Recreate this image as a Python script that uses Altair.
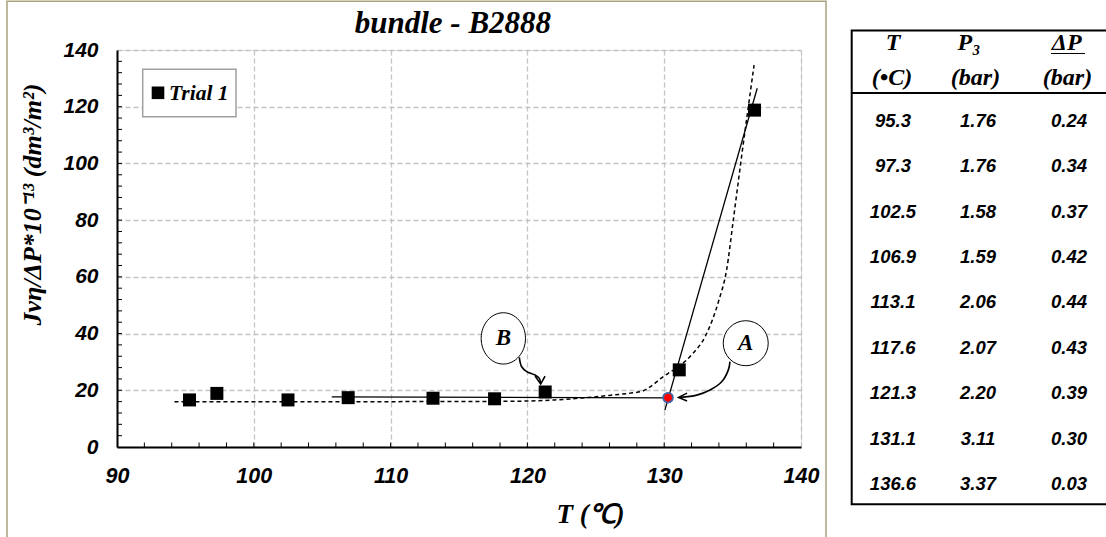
import altair as alt
import pandas as pd

# ---------------- data ----------------
T = [95.3, 97.3, 102.5, 106.9, 113.1, 117.6, 121.3, 131.1, 136.6]
J = [16.6, 18.9, 16.6, 17.4, 17.2, 17.0, 19.4, 27.2, 118.8]
P3 = [1.76, 1.76, 1.58, 1.59, 2.06, 2.07, 2.20, 3.11, 3.37]
DP = [0.24, 0.34, 0.37, 0.42, 0.44, 0.43, 0.39, 0.30, 0.03]

fit_T = [94.2, 100, 105, 110, 115, 118, 120, 122, 124, 126, 127.5, 128.4, 129, 129.7,
         130.3, 131.1, 132, 133, 134, 134.56, 135.05, 135.59, 136.15, 136.57]
fit_J = [16.0, 16.0, 16.0, 16.0, 16.05, 16.1, 16.2, 16.6, 17.3, 18.2, 19.0, 19.7, 21.3, 24.0,
         26.0, 28.5, 32.5, 39.0, 51.8, 62.4, 80.0, 100.0, 120.0, 134.7]

seg_id = [1, 1, 2, 2]
seg_T = [105.7, 130.3, 130.05, 136.8]
seg_J = [17.7, 17.3, 13.0, 126.5]

red_T = [130.28]
red_J = [17.4]

arrow_id = ["B"] * 6 + ["A"] * 6
arrow_T = [119.41, 119.58, 119.95, 120.56, 120.87, 120.97,
           134.81, 134.69, 134.20, 133.35, 132.38, 131.16]
arrow_J = [31.6, 28.3, 26.6, 25.4, 24.2, 22.5,
           30.1, 27.2, 23.0, 20.1, 18.3, 17.5]

head_id = ["B", "B", "B", "A", "A", "A"]
head_T = [120.56, 120.97, 121.29, 131.67, 131.05, 131.67]
head_J = [25.0, 22.2, 25.0, 19.0, 17.5, 16.2]

label_txt = ["B", "A"]
label_T = [118.24, 135.96]
label_J = [38.3, 36.6]

x_minor = list(range(92, 140, 2))
y_minor = list(range(4, 140, 4))

SERIF = "Liberation Serif"
SANS = "Liberation Sans"

# ---------------- scales / axes ----------------
xs = alt.Scale(domain=[90, 140], nice=False, zero=False)
ys = alt.Scale(domain=[0, 140], nice=False)

x_axis = alt.Axis(values=[90, 100, 110, 120, 130, 140], format="d", labelFont=SANS,
                  labelFontSize=21.5, labelFontStyle="italic", labelFontWeight="bold",
                  labelColor="black", labelPadding=18, labelFlush=False, ticks=False,
                  domainColor="black", domainWidth=2, grid=True, gridColor="#c4c4c4",
                  gridDash=[5, 3], gridWidth=1.3, title="T (\u2103)", titleFont=SERIF,
                  titleFontSize=27, titleFontStyle="italic", titleFontWeight="bold",
                  titleColor="black", titleX=473, titleY=75, titleAlign="center",
                  titleBaseline="alphabetic", titleAnchor="start")
y_axis = alt.Axis(values=[0, 20, 40, 60, 80, 100, 120, 140], format="d", labelFont=SANS,
                  labelFontSize=21, labelFontStyle="italic", labelFontWeight="bold",
                  labelColor="black", labelPadding=19, labelFlush=False, ticks=False,
                  domainColor="black", domainWidth=2, grid=True, gridColor="#c4c4c4",
                  gridDash=[5, 3], gridWidth=1.3,
                  title="Jv\u03b7/\u0394P*10\u207b\u00b9\u00b3 (dm\u00b3/m\u00b2)",
                  titleFont=SERIF, titleFontSize=26, titleFontStyle="italic",
                  titleFontWeight="bold", titleColor="black", titleAngle=270,
                  titleX=-85, titleY=154, titleAlign="center", titleBaseline="middle",
                  titleAnchor="start")

X = alt.X("x:Q", scale=xs, axis=x_axis)
Y = alt.Y("y:Q", scale=ys, axis=y_axis)

one = pd.DataFrame({"a": [0]})

# ---------------- main chart layers ----------------
frame = alt.Chart(one).mark_rect(fill=None, stroke="#a9a17f", strokeWidth=1.5).encode(
    x=alt.value(-110), x2=alt.value(709), y=alt.value(-48.7), y2=alt.value(500))

points_df = pd.DataFrame({"x": T, "y": J})
base_axes = alt.Chart(points_df).mark_point(opacity=0).encode(x=X, y=Y)

xminor = alt.Chart(pd.DataFrame({"x": x_minor})).mark_rule(color="black", strokeWidth=1).encode(
    x=X, y=alt.value(397), y2=alt.value(392.5))
yminor = alt.Chart(pd.DataFrame({"y": y_minor})).mark_rule(color="black", strokeWidth=1).encode(
    y=Y, x=alt.value(0), x2=alt.value(5))

fit = alt.Chart(pd.DataFrame({"x": fit_T, "y": fit_J, "i": range(len(fit_T))})).mark_line(
    color="black", strokeWidth=1.5, strokeDash=[4, 3], interpolate="monotone").encode(
    x=X, y=Y, order="i:Q")

solid = alt.Chart(pd.DataFrame({"x": seg_T, "y": seg_J, "seg": seg_id})).mark_line(
    color="black", strokeWidth=1.3).encode(x=X, y=Y, detail="seg:N")

arrows = alt.Chart(pd.DataFrame({"x": arrow_T, "y": arrow_J, "g": arrow_id,
                                 "i": list(range(len(arrow_T)))})).mark_line(
    color="black", strokeWidth=1.6, interpolate="catmull-rom").encode(
    x=X, y=Y, detail="g:N", order="i:Q")

heads = alt.Chart(pd.DataFrame({"x": head_T, "y": head_J, "g": head_id,
                                "i": list(range(len(head_T)))})).mark_line(
    color="black", strokeWidth=1.6).encode(x=X, y=Y, detail="g:N", order="i:Q")

pts = alt.Chart(points_df).mark_point(shape="square", filled=True, size=169, color="black",
                                      opacity=1).encode(x=X, y=Y)

red = alt.Chart(pd.DataFrame({"x": red_T, "y": red_J})).mark_point(
    shape="circle", filled=True, fill="#ff0000", stroke="#3f67a8", strokeWidth=1.8,
    size=95, opacity=1).encode(x=X, y=Y)

ell_B = alt.Chart(pd.DataFrame({"x": [label_T[0]], "y": [label_J[0]]})).mark_point(
    shape="M -0.864 0 A 0.864 1 0 1 1 0.864 0 A 0.864 1 0 1 1 -0.864 0 Z",
    filled=True, fill="white", stroke="black", strokeWidth=1, size=2632,
    opacity=1).encode(x=X, y=Y)
ell_A = alt.Chart(pd.DataFrame({"x": [label_T[1]], "y": [label_J[1]]})).mark_point(
    shape="circle", filled=True, fill="white", stroke="black", strokeWidth=1, size=2025,
    opacity=1).encode(x=X, y=Y)

letters = alt.Chart(pd.DataFrame({"x": label_T, "y": label_J, "t": label_txt})).mark_text(
    font=SERIF, fontSize=23, fontStyle="italic", fontWeight="bold", color="black",
    baseline="middle", align="center").encode(x=X, y=Y, text="t:N")

leg_box = alt.Chart(one).mark_rect(fill="white", stroke="#a0a0a0", strokeWidth=1.5).encode(
    x=alt.value(25.7), x2=alt.value(119), y=alt.value(19.3), y2=alt.value(66.7))
leg_sq = alt.Chart(one).mark_point(shape="square", filled=True, color="black", size=159,
                                   opacity=1).encode(x=alt.value(41), y=alt.value(42.8))
leg_txt = alt.Chart(pd.DataFrame({"t": ["Trial 1"]})).mark_text(
    font=SERIF, fontSize=21.5, fontStyle="italic", fontWeight="bold", color="black",
    align="left", baseline="alphabetic").encode(x=alt.value(52), y=alt.value(49.5), text="t:N")

title = alt.Chart(pd.DataFrame({"t": ["bundle - B2888"]})).mark_text(
    font=SERIF, fontSize=31, fontStyle="italic", fontWeight="bold", color="black",
    align="center", baseline="alphabetic").encode(x=alt.value(335.9), y=alt.value(-16.7),
                                                  text="t:N")

main = alt.layer(frame, base_axes, xminor, yminor, fit, solid, arrows, heads, pts, red,
                 ell_B, ell_A, letters, leg_box, leg_sq, leg_txt, title)

# ---------------- table ----------------
tbl = pd.DataFrame({"i": list(range(len(T))), "T": T, "P3": P3, "DP": DP})
rowY = alt.Y("i:O", scale=alt.Scale(range=[76.7, 440], padding=0), axis=None)

tbox = alt.Chart(one).mark_rect(fill=None, stroke="black", strokeWidth=2).encode(
    x=alt.value(734.7), x2=alt.value(1010), y=alt.value(-19.5), y2=alt.value(454.3))
trule = alt.Chart(one).mark_rule(color="black", strokeWidth=2).encode(
    x=alt.value(734.7), x2=alt.value(1010), y=alt.value(43))
uline = alt.Chart(one).mark_rule(color="black", strokeWidth=1).encode(
    x=alt.value(934), x2=alt.value(968), y=alt.value(3.5))


def head(txt, cx, y):
    return alt.Chart(pd.DataFrame({"t": [txt]})).mark_text(
        font=SERIF, fontSize=24, fontStyle="italic", fontWeight="bold", color="black",
        align="center", baseline="alphabetic").encode(
        x=alt.value(cx), y=alt.value(y), text="t:N")


heads_tbl = [head("T", 776, 0), head("(\u2022C)", 775, 35),
             head("P\u2083", 852, 0), head("(bar)", 858.5, 35),
             head("\u0394P", 949.7, 0), head("(bar)", 950.5, 35)]


def col(field, fmt, cx):
    return alt.Chart(tbl).mark_text(
        font=SANS, fontSize=18.5, fontStyle="italic", fontWeight="bold", color="black",
        align="center", baseline="alphabetic").encode(
        x=alt.value(cx), y=rowY, text=alt.Text(f"{field}:Q", format=fmt))


table = alt.layer(tbox, trule, uline, *heads_tbl,
                  col("T", ".1f", 776), col("P3", ".2f", 861), col("DP", ".2f", 952))

chart = alt.layer(main, table).resolve_scale(x="independent", y="independent").properties(
    width=684, height=397,
    autosize=alt.AutoSizeParams(type="none"),
    padding={"left": 117, "top": 50, "right": 305, "bottom": 90},
).configure_view(stroke="black", strokeWidth=1).configure(background="white")

chart.save("out.html", embed_options={"renderer": "svg", "actions": False})
